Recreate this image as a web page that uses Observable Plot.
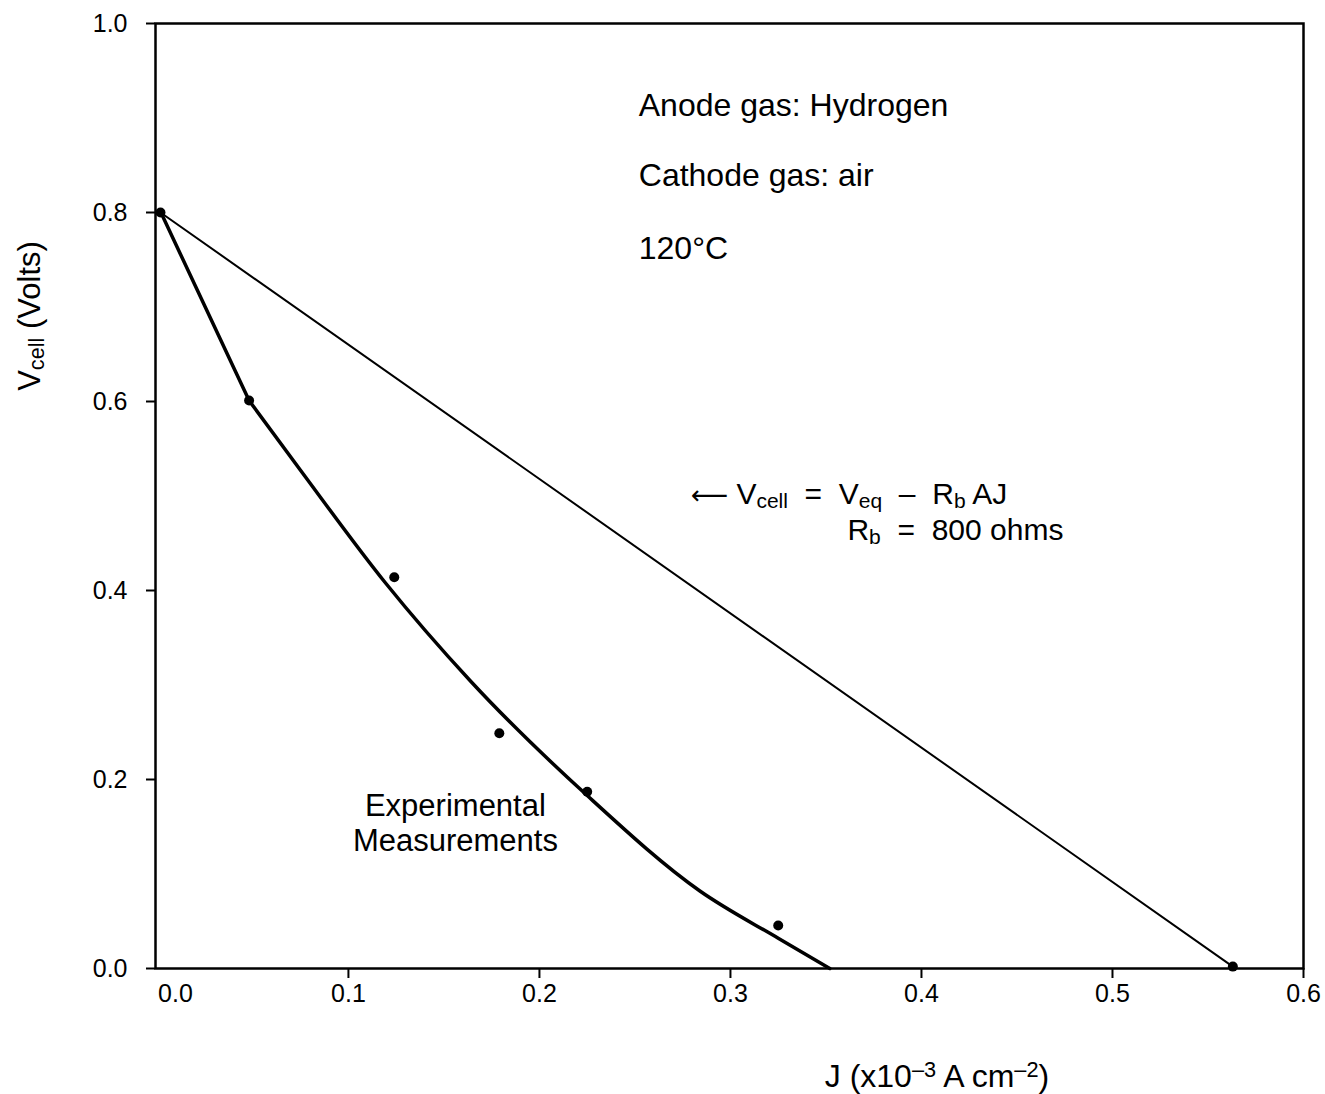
<!DOCTYPE html>
<html>
<head>
<meta charset="utf-8">
<script src="https://cdn.jsdelivr.net/npm/d3@7"></script>
<script src="https://cdn.jsdelivr.net/npm/@observablehq/plot@0.6"></script>
<style>
  body { margin: 0; background: #fff; }
  svg { font-family: "Liberation Sans", Arial, Helvetica, sans-serif; }
</style>
</head>
<body>
<div id="chart"></div>
<script>
// Experimental measurements (J in x10^-3 A cm^-2, V in volts)
const measJ = [0.0016, 0.048, 0.124, 0.179, 0.225, 0.325, 0.563];
const measV = [0.800, 0.601, 0.414, 0.249, 0.187, 0.0455, 0.002];

// Fitted curve through measurements
const fitJ = [0.0016, 0.048, 0.075, 0.119, 0.164, 0.225, 0.284, 0.325, 0.352];
const fitV = [0.801, 0.601, 0.527, 0.409, 0.304, 0.183, 0.082, 0.032, 0.0];

// Ohmic line V_cell = V_eq - R_b A J
const ohmJ = [0.0016, 0.563];
const ohmV = [0.800, 0.002];

const xTicks = [0.1, 0.2, 0.3, 0.4, 0.5, 0.6];
const yTicks = [0.0, 0.2, 0.4, 0.6, 0.8, 1.0];

const notes = ["Anode gas: Hydrogen", "Cathode gas: air", "120°C"];
const notesY = [0.913, 0.839, 0.762];
const notesX = 0.252;

const expLabel = ["Experimental", "Measurements"];
const expY = [0.1714, 0.1344];
const expX = 0.156;

const meas = measJ.map((j, i) => ({J: j, V: measV[i]}));
const fit = fitJ.map((j, i) => ({J: j, V: fitV[i]}));
const ohm = ohmJ.map((j, i) => ({J: j, V: ohmV[i]}));

const plot = Plot.plot({
  width: 1325,
  height: 1094,
  marginLeft: 155,
  marginRight: 22,
  marginTop: 23,
  marginBottom: 126,
  x: {domain: [-0.001, 0.6]},
  y: {domain: [0, 1]},
  style: {fontFamily: '"Liberation Sans", Arial, Helvetica, sans-serif', fontSize: "25px", color: "#000", background: "#fff"},
  marks: [
    Plot.axisX(xTicks, {tickSize: 10, tickPadding: 6, tickFormat: d3.format(".1f"), strokeWidth: 2, label: null}),
    Plot.axisX([0], {tickSize: 0, tickPadding: 16, dx: 18, tickFormat: d3.format(".1f"), label: null}),
    Plot.axisY(yTicks, {tickSize: 9, tickPadding: 19, tickFormat: d3.format(".1f"), strokeWidth: 2, label: null}),
    Plot.frame({stroke: "#000", strokeWidth: 2.5}),
    Plot.line(ohm, {x: "J", y: "V", stroke: "#000", strokeWidth: 2}),
    Plot.line(fit.slice(0, 2), {x: "J", y: "V", stroke: "#000", strokeWidth: 3.5}),
    Plot.line(fit.slice(1), {x: "J", y: "V", stroke: "#000", strokeWidth: 3.5, curve: "monotone-x"}),
    Plot.dot(meas, {x: "J", y: "V", r: 5, fill: "#000", stroke: "none"}),
    Plot.text(notes, {x: () => notesX, y: (d, i) => notesY[i], text: d => d, textAnchor: "start", fontSize: 32, fill: "#000"}),
    Plot.text(expLabel, {x: () => expX, y: (d, i) => expY[i], text: d => d, textAnchor: "middle", fontSize: 31, fill: "#000"})
  ]
});

document.getElementById("chart").appendChild(plot);

const svg = d3.select(plot);
const xs = plot.scale("x"), ys = plot.scale("y");
const ff = '"Liberation Sans", Arial, Helvetica, sans-serif';

function rich(parent, parts) {
  parts.forEach(p => {
    const t = parent.append("tspan").text(p.t);
    if (p.sub) t.attr("font-size", "0.7em").attr("dy", "0.2em");
    if (p.sup) t.attr("font-size", "0.68em").attr("dy", "-0.45em");
    if (p.back) t.attr("dy", p.back);
    if (p.font) t.attr("font-family", p.font);
    if (p.size) t.attr("font-size", p.size);
  });
}

// Equation annotation
const eq1 = svg.append("text")
  .attr("x", xs.apply(0.2795)).attr("y", ys.apply(0.491))
  .attr("text-anchor", "start")
  .attr("font-size", 30).attr("font-family", ff).attr("fill", "#000")
  .style("white-space", "pre");
rich(eq1, [
  {t: "⟵", font: "DejaVu Sans", size: 26}, {t: " V"}, {t: "cell", sub: true}, {t: "  =  V", back: "-0.14em"}, {t: "eq", sub: true},
  {t: "  –  R", back: "-0.14em"}, {t: "b", sub: true}, {t: " AJ", back: "-0.14em"}
]);
const eq2 = svg.append("text")
  .attr("x", xs.apply(0.3615)).attr("y", ys.apply(0.453))
  .attr("text-anchor", "start")
  .attr("font-size", 30).attr("font-family", ff).attr("fill", "#000")
  .style("white-space", "pre");
rich(eq2, [
  {t: "R"}, {t: "b", sub: true}, {t: "  =  800 ohms", back: "-0.14em"}
]);

// Y axis label
const yl = svg.append("text")
  .attr("transform", "translate(40,316) rotate(-90)")
  .attr("text-anchor", "middle")
  .attr("font-size", 31).attr("font-family", ff).attr("fill", "#000")
  .style("white-space", "pre");
rich(yl, [{t: "V"}, {t: "cell", sub: true}, {t: " (Volts)", back: "-0.14em"}]);

// X axis label
const xl = svg.append("text")
  .attr("x", 937).attr("y", 1087)
  .attr("text-anchor", "middle")
  .attr("font-size", 32).attr("font-family", ff).attr("fill", "#000");
rich(xl, [{t: "J (x10"}, {t: "–3", sup: true}, {t: " A cm", back: "0.306em"}, {t: "–2", sup: true}, {t: ")", back: "0.306em"}]);
</script>
</body>
</html>
